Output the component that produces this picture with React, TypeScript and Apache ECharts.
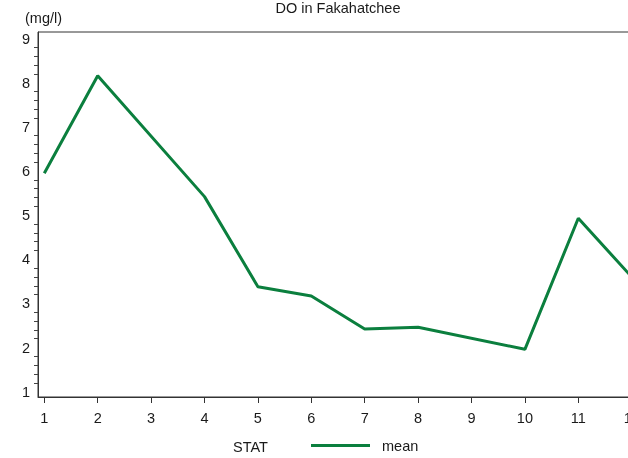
import React, { useEffect, useRef } from "react";
import * as echarts from "echarts";

const months = [1, 2, 4, 5, 6, 7, 8, 10, 11, 12];
const meanDO = [5.95, 8.16, 5.42, 3.38, 3.17, 2.42, 2.46, 1.96, 4.93, 3.6];
const xTicks = [1, 2, 3, 4, 5, 6, 7, 8, 9, 10, 11, 12];
const yTicks = [1, 2, 3, 4, 5, 6, 7, 8, 9];
const yMinorTicks = [
  1.2, 1.4, 1.6, 1.8, 2.2, 2.4, 2.6, 2.8, 3.2, 3.4, 3.6, 3.8, 4.2, 4.4, 4.6, 4.8,
  5.2, 5.4, 5.6, 5.8, 6.2, 6.4, 6.6, 6.8, 7.2, 7.4, 7.6, 7.8, 8.2, 8.4, 8.6, 8.8,
];

const FONT = "'Liberation Sans', Arial, sans-serif";
const TXT = "#1a1a1a";
const AX = "#333333";
const GREEN = "#0b7f3e";

export default function App() {
  const ref = useRef<HTMLDivElement>(null);
  useEffect(() => {
    if (!ref.current) return;
    const chart = echarts.init(ref.current, null, { renderer: "svg" });
    chart.setOption({
      animation: false,
      textStyle: { fontFamily: FONT, color: TXT },
      grid: {
        left: 38,
        top: 32,
        right: -10,
        bottom: 61,
        show: true,
        borderColor: AX,
        borderWidth: 1,
        outerBoundsMode: "none",
        containLabel: false,
      },
      graphic: [
        {
          type: "text",
          x: 338,
          y: 8,
          style: {
            text: "DO in Fakahatchee",
            fontFamily: FONT,
            fontSize: 14.5,
            fill: TXT,
            align: "center",
            verticalAlign: "middle",
          },
        },
        {
          type: "text",
          x: 25,
          y: 18,
          style: {
            text: "(mg/l)",
            fontFamily: FONT,
            fontSize: 14.5,
            fill: TXT,
            align: "left",
            verticalAlign: "middle",
          },
        },
        {
          type: "text",
          x: 233,
          y: 447,
          style: {
            text: "STAT",
            fontFamily: FONT,
            fontSize: 14.5,
            fill: TXT,
            align: "left",
            verticalAlign: "middle",
          },
        },
      ],
      legend: {
        data: ["mean"],
        left: 311,
        top: 438,
        padding: 0,
        icon: "rect",
        itemWidth: 59,
        itemHeight: 3,
        textStyle: {
          fontFamily: FONT,
          fontSize: 14.5,
          color: TXT,
          padding: [0, 0, 0, 7],
        },
      },
      xAxis: {
        type: "value",
        min: 0.882,
        max: 12.118,
        splitLine: { show: false },
        axisLine: { show: true, lineStyle: { color: AX, width: 1 } },
        axisTick: {
          show: true,
          length: 6,
          lineStyle: { color: AX },
          customValues: xTicks,
        },
        axisLabel: {
          fontFamily: FONT,
          fontSize: 14.5,
          color: TXT,
          margin: 13,
          customValues: xTicks,
          showMinLabel: true,
          showMaxLabel: true,
          hideOverlap: false,
        },
      },
      yAxis: {
        type: "value",
        min: 0.88,
        max: 9.15,
        splitLine: { show: false },
        axisLine: { show: true, lineStyle: { color: AX, width: 1 } },
        axisTick: {
          show: true,
          length: 4,
          lineStyle: { color: "#444" },
          customValues: yMinorTicks,
        },
        axisLabel: {
          fontFamily: FONT,
          fontSize: 14.5,
          color: TXT,
          margin: 8,
          customValues: yTicks,
        },
      },
      series: [
        {
          name: "mean",
          type: "line",
          data: months.map((m, i) => [m, meanDO[i]]),
          symbol: "none",
          color: GREEN,
          lineStyle: { color: GREEN, width: 3 },
        },
      ],
    });
    return () => chart.dispose();
  }, []);
  return (
    <div
      ref={ref}
      style={{ position: "fixed", left: 0, top: 0, width: 628, height: 458 }}
    />
  );
}
